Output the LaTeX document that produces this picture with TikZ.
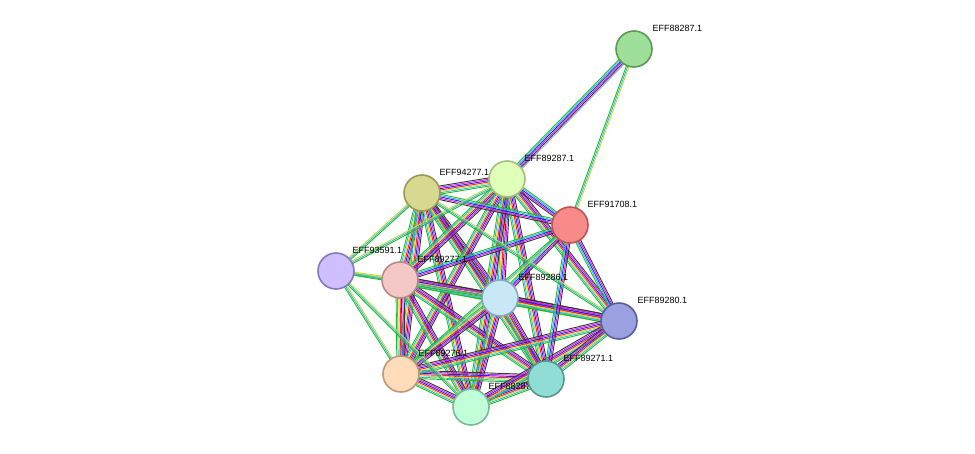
\documentclass[tikz,border=0pt]{standalone}
\usepackage{fontspec}
\setmainfont{Liberation Sans}
\usetikzlibrary{calc}
\definecolor{eg}{HTML}{22BB22}
\definecolor{ec}{HTML}{33BBDD}
\definecolor{ey}{HTML}{C8D83A}
\definecolor{er}{HTML}{FF2222}
\definecolor{eb}{HTML}{2222FF}
\definecolor{em}{HTML}{DD22DD}
\definecolor{ek}{HTML}{333333}
\definecolor{el}{HTML}{9999FF}
\definecolor{fA}{HTML}{CFBFFF}\definecolor{dA}{HTML}{8877BB}
\definecolor{fB}{HTML}{D8D890}\definecolor{dB}{HTML}{999955}
\definecolor{fC}{HTML}{E0FFB8}\definecolor{dC}{HTML}{A0C080}
\definecolor{fD}{HTML}{F88A8A}\definecolor{dD}{HTML}{BB5555}
\definecolor{fE}{HTML}{F5C8C8}\definecolor{dE}{HTML}{BB8888}
\definecolor{fF}{HTML}{C8E8F8}\definecolor{dF}{HTML}{88AABB}
\definecolor{fG}{HTML}{9AA0E0}\definecolor{dG}{HTML}{55609A}
\definecolor{fH}{HTML}{FFDDBB}\definecolor{dH}{HTML}{BB9977}
\definecolor{fI}{HTML}{C0FFD8}\definecolor{dI}{HTML}{77BB99}
\definecolor{fJ}{HTML}{90DDD5}\definecolor{dJ}{HTML}{55998F}
\definecolor{fK}{HTML}{9EE09A}\definecolor{dK}{HTML}{5A9A55}
\tikzset{
  prot/.style={circle,draw,line width=1.6pt,minimum size=36pt,inner sep=0pt},
  lab/.style={anchor=west,font=\fontsize{9}{10}\selectfont,inner sep=0.5pt},
}
\newcommand{\bundle}[4]{% a b n colors
  \foreach \cc [count=\ii] in {#4}{
    \pgfmathsetmacro{\oo}{(\ii-(#3+1)/2)*1.35}
    \draw[\cc,line width=0.9pt] ($(#1)!\oo pt!90:(#2)$) -- ($(#2)!\oo pt!-90:(#1)$);
  }}
\newcommand{\edgeS}[2]{\bundle{#1}{#2}{7}{eg,ec,ey,er,eb,em,ek}}
\newcommand{\edgeM}[2]{\bundle{#1}{#2}{5}{eg,ec,eb,em,ek}}
\newcommand{\edgeW}[2]{\bundle{#1}{#2}{3}{eg,ec,ey}}
\begin{document}
\begin{tikzpicture}[x=1pt,y=-1pt]
\useasboundingbox (0,0) rectangle (975,453);
\coordinate (a88287) at (634,49);
\coordinate (a89287) at (507,179);
\coordinate (a94) at (422,193);
\coordinate (a91708) at (570,225);
\coordinate (a93591) at (336,271);
\coordinate (a89277) at (400,280);
\coordinate (a89286) at (500,298);
\coordinate (a89280) at (619,321);
\coordinate (a89276) at (401,374);
\coordinate (a89271) at (546,379);
\coordinate (a88) at (471,407);
% edges
\bundle{a88287}{a89287}{6}{eg,ec,eb,em,ek,el}
\edgeW{a88287}{a91708}
\foreach \p/\q in {a94/a89287,a94/a89277,a94/a89286,a94/a89276,a94/a88,a94/a89271,
  a89287/a89277,a89287/a89286,a89287/a89276,a89287/a88,a89287/a89271,a89287/a89280,
  a89277/a89286,a89277/a89276,a89277/a88,a89277/a89271,a89277/a89280,
  a89286/a89276,a89286/a88,a89286/a89271,a89286/a89280,
  a89276/a88,a89276/a89271,a89276/a89280,a88/a89271,a88/a89280,a89271/a89280}{\edgeS{\p}{\q}}
\foreach \p/\q in {a91708/a89287,a91708/a94,a91708/a89280,a91708/a89271,a91708/a89286,a91708/a89277}{\edgeM{\p}{\q}}
\foreach \p/\q in {a93591/a94,a93591/a89287,a93591/a89277,a93591/a89276,a93591/a88,a93591/a89286,a94/a89280,a91708/a89276}{\edgeW{\p}{\q}}
% nodes
\node[prot,fill=fA,draw=dA] (n93591) at (a93591) {};
\node[lab] at ($(a93591)+(16,-21)$) {EFF93591.1};
\node[prot,fill=fB,draw=dB] (n94) at (a94) {};
\node[lab] at ($(a94)+(17,-21)$) {EFF94277.1};
\node[prot,fill=fC,draw=dC] (n89287) at (a89287) {};
\node[lab] at ($(a89287)+(17,-21)$) {EFF89287.1};
\node[prot,fill=fD,draw=dD] (n91708) at (a91708) {};
\node[lab] at ($(a91708)+(17,-21)$) {EFF91708.1};
\node[prot,fill=fE,draw=dE] (n89277) at (a89277) {};
\node[lab] at ($(a89277)+(17,-21)$) {EFF89277.1};
\node[prot,fill=fF,draw=dF] (n89286) at (a89286) {};
\node[lab] at ($(a89286)+(18,-21)$) {EFF89286.1};
\node[prot,fill=fG,draw=dG] (n89280) at (a89280) {};
\node[lab] at ($(a89280)+(18,-21)$) {EFF89280.1};
\node[prot,fill=fH,draw=dH] (n89276) at (a89276) {};
\node[lab] at ($(a89276)+(17,-21)$) {EFF89276.1};
\node[prot,fill=fI,draw=dI] (n88) at (a88) {};
\node[lab] at ($(a88)+(17,-21)$) {EFF88287.2};
\node[prot,fill=fJ,draw=dJ] (n89271) at (a89271) {};
\node[lab] at ($(a89271)+(17,-21)$) {EFF89271.1};
\node[prot,fill=fK,draw=dK] (n88287) at (a88287) {};
\node[lab] at ($(a88287)+(18,-21)$) {EFF88287.1};
\end{tikzpicture}
\end{document}
